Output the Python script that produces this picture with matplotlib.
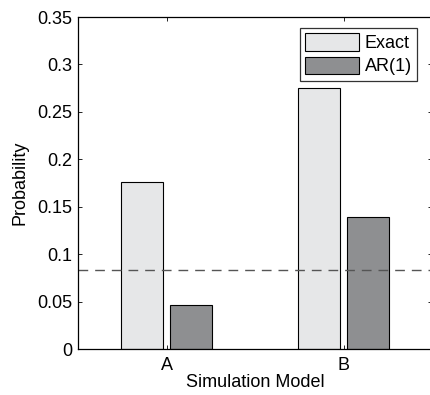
import matplotlib
matplotlib.use("Agg")
import matplotlib.pyplot as plt
import numpy as np

plt.rcParams['font.family'] = ['Liberation Sans', 'DejaVu Sans']

categories = ['A', 'B']
exact = [0.176, 0.275]
ar1 = [0.0465, 0.139]
threshold = 1/12

fig = plt.figure(figsize=(4.3, 3.95), dpi=100)
ax = fig.add_axes([78/430, 1-349/395, 354/430, 332/395])
x = np.arange(1, len(categories)+1)
w = 0.235
ax.bar(x-0.14, exact, w, color='#e6e7e8', edgecolor='black', linewidth=0.8, label='Exact')
ax.bar(x+0.14, ar1, w, color='#8e8f91', edgecolor='black', linewidth=0.8, label='AR(1)')
ax.axhline(threshold, color='#555555', linestyle=(0, (7, 5)), linewidth=1.0)
ax.set_xlim(0.5, 2.5)
ax.set_ylim(0, 0.35)
ax.set_xticks(x)
ax.set_xticklabels(categories)
ax.set_yticks([0, 0.05, 0.1, 0.15, 0.2, 0.25, 0.3, 0.35])
ax.set_yticklabels(['0', '0.05', '0.1', '0.15', '0.2', '0.25', '0.3', '0.35'])
ax.tick_params(direction='in', top=True, right=True, labelsize=13, length=3, width=0.6, pad=4)
ax.tick_params(axis='x', pad=6)
ax.set_xlabel('Simulation Model', fontsize=13, labelpad=0)
ax.set_ylabel('Probability', fontsize=13, labelpad=6)
for s in ax.spines.values():
    s.set_linewidth(0.9)
ax.spines['right'].set_visible(False)
leg = ax.legend(loc='upper right', fontsize=13, frameon=True, fancybox=False,
                edgecolor='black', handlelength=3.0, handleheight=1.1,
                borderaxespad=0.6, handletextpad=0.3, labelspacing=0.25, borderpad=0.3,
                bbox_to_anchor=(1.0 - 4/354, 1.0))
leg.get_frame().set_linewidth(0.9)
fig.savefig('out.png', dpi=100)
